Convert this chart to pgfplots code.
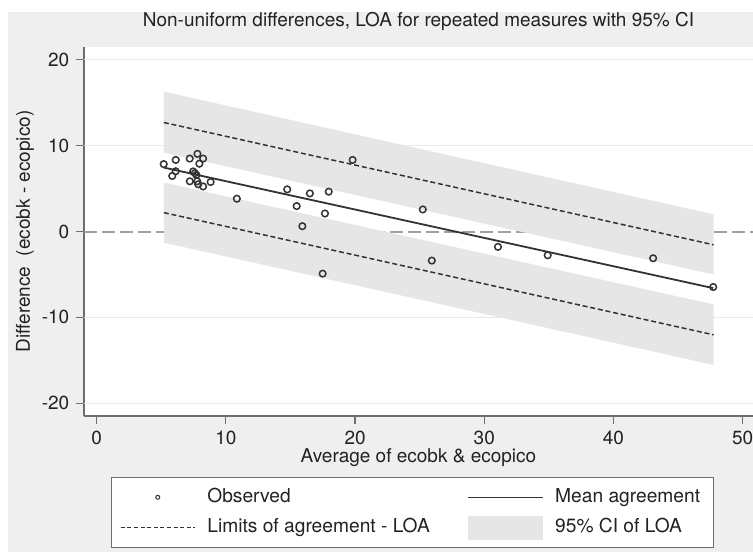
\documentclass[border=0pt]{standalone}
\usepackage{fontspec}
\setmainfont{TeX Gyre Heros}
\usepackage{pgfplots}
\pgfplotsset{compat=1.18}
\definecolor{bg}{HTML}{EFEFEF}
\definecolor{cifill}{HTML}{E6E6E6}
\definecolor{axgray}{HTML}{6E6E6E}
\definecolor{dk}{HTML}{333333}
\definecolor{gridc}{HTML}{EAEAEA}
\definecolor{zeroc}{HTML}{A0A0A0}
\definecolor{txt}{HTML}{222222}

\pgfplotsset{
  wideline legend/.style={legend image code/.code={\draw[##1] (0pt,0pt) -- (37pt,0pt);}},
  midmark legend/.style={legend image code/.code={\draw[##1] plot coordinates {(18.5pt,0pt)};}},
  bandrect legend/.style={legend image code/.code={\fill[##1] (0pt,-6pt) rectangle (37pt,6pt);}},
}

\pgfplotstableread{
x y
5.19 7.85
6.12 8.34
6.12 7.02
5.85 6.47
7.20 8.50
7.80 9.05
8.24 8.50
7.95 7.90
7.47 7.00
7.60 6.80
7.72 6.60
7.21 5.85
7.78 5.85
7.86 5.50
8.24 5.25
8.82 5.77
10.85 3.82
14.75 4.91
16.50 4.44
17.96 4.64
15.48 2.96
17.67 2.10
15.92 0.62
17.49 -4.91
19.81 8.34
25.24 2.57
25.94 -3.39
31.06 -1.79
34.91 -2.77
43.07 -3.12
47.72 -6.47
}\obs

\begin{document}
\fontsize{9.5pt}{11.5pt}\selectfont
\begin{tikzpicture}
\useasboundingbox (0,0) rectangle (376.5pt,276pt);
\fill[white] (0,0) rectangle (376.5pt,276pt);
\fill[bg] (4pt,0) rectangle (376.5pt,270pt);
\begin{axis}[
  at={(42pt,68pt)}, anchor=south west,
  scale only axis, width=334.5pt, height=184.5pt,
  xmin=-0.98, xmax=50.8, ymin=-21.5, ymax=21.5,
  axis background/.style={fill=white},
  axis x line*=bottom, axis y line*=left,
  axis line style={-, draw=axgray, line width=0.6pt},
  xtick={0,10,20,30,40,50}, ytick={-20,-10,0,10,20},
  tick align=outside, major tick length=4pt,
  tick style={axgray, line width=0.6pt},
  xtick pos=bottom, ytick pos=left,
  /pgf/number format/assume math mode=true,
  ticklabel style={font=\fontsize{9.5pt}{11pt}\selectfont, text=txt},
  title={Non-uniform differences, LOA for repeated measures with 95\% CI},
  title style={at={(axis description cs:0.5,1.038)}, anchor=center, text=txt, inner sep=0pt},
  xlabel={Average of ecobk \& ecopico},
  xlabel style={at={(axis description cs:0.5,-0.1138)}, anchor=center, text=txt, inner sep=0pt},
  ylabel={Difference~ (ecobk - ecopico)},
  ylabel style={at={(axis description cs:-0.0882,0.5)}, anchor=center, rotate=0, text=txt, inner sep=0pt},
  legend columns=2,
  legend cell align=left,
  legend style={at={(axis description cs:0.4905,-0.2615)}, anchor=center,
    draw=axgray, fill=white, line width=0.5pt, inner xsep=4.5pt, inner ysep=3.5pt,
    font=\fontsize{9.6pt}{11pt}\selectfont, text=txt,
    nodes={text height=7pt, text depth=2.2pt},
    row sep=2pt,
    /tikz/column 1/.style={column sep=4pt},
    /tikz/column 2/.style={column sep=17pt},
    /tikz/column 3/.style={column sep=4pt}},
]
% grid lines
\addplot[gridc, line width=0.5pt, forget plot] coordinates {(-0.98,20) (50.8,20)};
\addplot[gridc, line width=0.5pt, forget plot] coordinates {(-0.98,10) (50.8,10)};
\addplot[gridc, line width=0.5pt, forget plot] coordinates {(-0.98,-10) (50.8,-10)};
\addplot[gridc, line width=0.5pt, forget plot] coordinates {(-0.98,-20) (50.8,-20)};
% zero reference
\addplot[zeroc, line width=1pt, dash pattern=on 6.5pt off 2.5pt, forget plot] coordinates {(-0.98,0) (50.8,0)};
% CI bands
\addplot[fill=cifill, draw=none, forget plot] coordinates {(5.2,16.3) (47.75,2.0) (47.75,-5.0) (5.2,9.2)} -- cycle;
\addplot[fill=cifill, draw=none, forget plot] coordinates {(5.2,5.7) (47.75,-8.5) (47.75,-15.55) (5.2,-1.3)} -- cycle;
% LOA
\addplot[dk, line width=0.75pt, dash pattern=on 2.5pt off 1.4pt, forget plot] coordinates {(5.2,12.7) (47.75,-1.55)};
\addplot[dk, line width=0.75pt, dash pattern=on 2.5pt off 1.4pt, forget plot] coordinates {(5.2,2.2) (47.75,-12.04)};
% mean
\addplot[dk, line width=0.9pt, forget plot] coordinates {(5.2,7.45) (47.72,-6.6)};
% observed
\addplot[only marks, mark=o, mark size=1.65pt, mark options={dk, line width=0.75pt}, forget plot] table[x=x,y=y] {\obs};

% legend
\addlegendimage{only marks, mark=o, mark size=1pt, mark options={dk, line width=0.5pt}, midmark legend}
\addlegendentry{Observed}
\addlegendimage{dk, line width=0.7pt, wideline legend}
\addlegendentry{Mean agreement}
\addlegendimage{dk, line width=0.6pt, dash pattern=on 2pt off 1.3pt, wideline legend}
\addlegendentry{Limits of agreement - LOA}
\addlegendimage{fill=cifill, draw=none, bandrect legend}
\addlegendentry{95\% CI of LOA}
\end{axis}
\end{tikzpicture}
\end{document}
